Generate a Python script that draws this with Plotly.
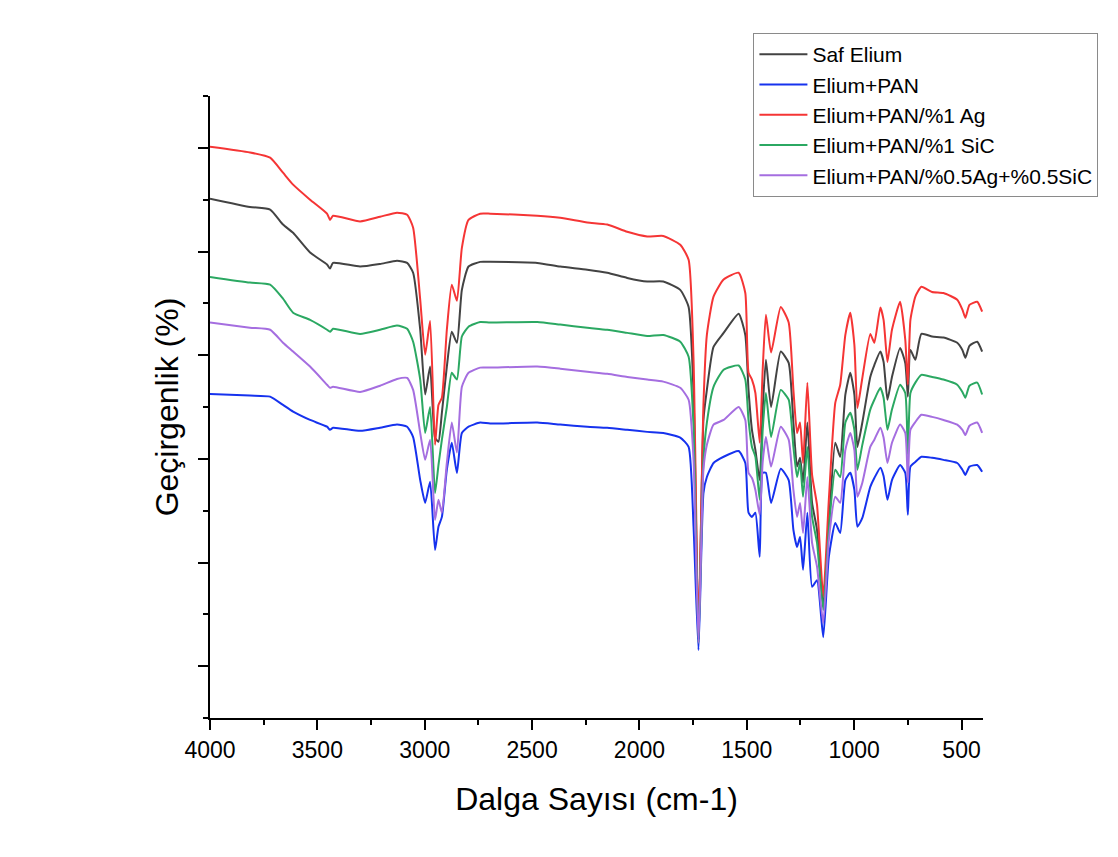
import plotly.graph_objects as go

# Wavenumber grid (cm-1)
wavenumber = [
    4000, 3814, 3720, 3660, 3613, 3534, 3455, 3441, 3427, 3301, 3208, 3129, 3082, 3054,
    3021, 2998, 2975, 2952, 2936, 2920, 2897, 2874, 2850, 2827, 2796, 2742,
    2695, 2476, 2369, 2243, 2150, 2057, 1964, 1889, 1810, 1771,
    1748, 1725, 1702, 1686, 1655, 1608, 1538, 1507, 1492, 1476, 1460, 1440, 1426, 1411, 1387, 1342,
    1305, 1283, 1266, 1252, 1238, 1218, 1196, 1173, 1144, 1118, 1088, 1065, 1041, 1018, 999, 985, 962, 925, 906, 878,
    863, 845, 824, 786, 762, 750, 738, 715, 687, 637, 584, 520, 496, 482, 463, 427, 404,
]

saf_elium = [
    100.2, 98.6, 98.1, 95.2, 93.6, 89.8, 87.5, 86.7, 87.8, 87.1, 87.6, 88.2, 87.8, 85.9,
    74.9, 62.4, 67.8, 54.1, 53.3, 58.9, 67.8, 74.5, 72.4, 82.6, 87.1, 88.0,
    88.0, 87.8, 87.1, 86.5, 85.9, 84.9, 84.2, 84.2, 82.6, 79.3,
    62.7, 15.1, 57.5, 63.3, 71.6, 74.3, 78.0, 73.9, 63.3, 55.6, 51.7, 45.9, 59.5, 69.1, 60.0, 70.7,
    68.5, 57.0, 48.5, 50.2, 45.4, 57.0, 41.5, 36.3, 21.4, 37.3, 53.1, 50.4, 62.4, 66.6, 62.4, 52.3, 57.0, 65.8, 68.1, 70.7,
    68.7, 61.4, 65.8, 71.4, 68.5, 62.0, 71.0, 69.1, 74.1, 73.6, 73.4, 72.4, 71.0, 69.5, 71.8, 72.6, 70.7,
]

elium_pan = [
    62.5, 62.2, 62.0, 60.4, 59.1, 57.5, 56.2, 55.6, 56.0, 55.4, 56.0, 56.6, 56.2, 54.2,
    45.9, 41.5, 45.6, 32.4, 36.9, 38.8, 47.9, 53.1, 47.3, 55.0, 56.2, 57.0,
    56.8, 57.0, 56.6, 56.2, 56.0, 55.6, 55.2, 55.0, 54.1, 52.3,
    36.9, 13.1, 43.4, 46.5, 49.2, 50.4, 51.5, 49.2, 39.6, 38.8, 39.6, 31.1, 47.3, 47.3, 41.5, 48.1,
    45.9, 36.3, 33.0, 34.9, 28.6, 39.6, 25.3, 26.6, 15.6, 31.1, 37.6, 35.7, 45.9, 47.3, 44.0, 36.9, 38.6, 44.6, 46.3, 48.3,
    46.7, 42.1, 45.9, 48.8, 47.3, 39.2, 48.5, 49.4, 50.4, 50.2, 49.8, 49.2, 47.9, 46.9, 48.5, 48.8, 47.5,
]

pan_ag = [
    110.2, 109.1, 108.1, 105.2, 102.9, 100.0, 97.3, 96.1, 96.9, 95.8, 96.7, 97.5, 97.1, 94.6,
    80.7, 70.1, 76.6, 52.7, 60.4, 61.8, 74.9, 83.6, 80.5, 90.7, 96.1, 97.3,
    97.3, 96.9, 96.5, 95.6, 95.2, 93.8, 92.9, 93.0, 91.3, 88.4,
    69.1, 16.4, 60.4, 73.9, 81.3, 84.6, 85.9, 82.0, 66.6, 65.3, 62.7, 53.1, 67.2, 77.8, 70.5, 79.3,
    76.3, 63.3, 55.0, 57.0, 49.2, 64.7, 46.9, 41.1, 23.4, 42.1, 60.8, 64.3, 73.9, 78.2, 72.0, 59.8, 65.6, 74.1, 72.4, 79.2,
    76.8, 68.7, 74.9, 80.3, 73.0, 64.3, 76.8, 81.3, 83.2, 82.2, 82.0, 80.7, 78.8, 77.2, 79.7, 80.3, 78.4,
]

pan_sic = [
    85.1, 84.0, 83.6, 80.9, 78.2, 76.8, 74.9, 74.5, 75.1, 74.1, 74.9, 75.7, 75.1, 72.6,
    65.3, 55.0, 60.0, 43.4, 48.8, 53.7, 60.0, 66.6, 65.3, 73.6, 75.5, 76.4,
    76.3, 76.4, 75.9, 75.3, 74.9, 74.3, 73.7, 73.9, 72.6, 69.7,
    56.2, 14.5, 49.8, 57.0, 63.9, 67.2, 68.0, 65.3, 57.5, 52.3, 50.4, 42.1, 55.6, 62.7, 54.2, 63.3,
    61.4, 52.3, 46.5, 49.2, 42.7, 52.3, 38.8, 33.8, 20.8, 36.3, 47.9, 46.5, 57.0, 58.9, 55.6, 47.9, 52.7, 59.5, 61.4, 63.7,
    61.8, 55.6, 59.5, 64.3, 62.7, 50.8, 62.7, 64.7, 66.2, 65.8, 65.3, 64.3, 62.9, 61.8, 64.1, 64.7, 62.4,
]

pan_ag_sic = [
    76.3, 75.3, 74.9, 72.4, 70.7, 67.8, 64.3, 63.7, 63.9, 62.9, 64.1, 65.4, 65.6, 63.3,
    55.0, 49.8, 53.7, 38.2, 42.1, 39.6, 49.2, 57.0, 51.2, 63.9, 66.6, 67.6,
    67.6, 67.8, 67.4, 66.8, 66.4, 65.8, 65.3, 64.9, 63.7, 61.4,
    49.8, 14.5, 47.9, 52.7, 56.6, 57.5, 60.0, 57.5, 47.3, 46.3, 44.0, 39.2, 49.4, 54.2, 48.5, 56.2,
    53.7, 44.0, 38.8, 41.5, 35.7, 46.5, 33.8, 29.2, 18.3, 34.4, 42.7, 41.5, 51.7, 55.0, 51.7, 42.7, 45.4, 52.3, 53.7, 56.0,
    54.1, 49.2, 53.1, 56.6, 55.0, 45.4, 55.6, 57.1, 58.5, 58.1, 57.5, 56.6, 55.6, 54.6, 56.4, 57.0, 55.0,
]

series_names = ["Saf Elium", "Elium+PAN", "Elium+PAN/%1 Ag", "Elium+PAN/%1 SiC", "Elium+PAN/%0.5Ag+%0.5SiC"]
series_values = [saf_elium, elium_pan, pan_ag, pan_sic, pan_ag_sic]
series_colors = ["#434343", "#1632ee", "#f53535", "#2ba862", "#a56ee0"]

x_major_ticks = [4000, 3500, 3000, 2500, 2000, 1500, 1000, 500]
x_minor_ticks = [3750, 3250, 2750, 2250, 1750, 1250, 750]
y_major_ticks = [10, 30, 50, 70, 90, 110]
y_minor_ticks = [0, 20, 40, 60, 80, 100, 120]

fig = go.Figure()
for name, vals, col in zip(series_names, series_values, series_colors):
    fig.add_trace(go.Scatter(x=wavenumber, y=vals, mode="lines", name=name,
                             line=dict(color=col, width=2, shape="spline", smoothing=0.5)))

font_family = "Liberation Sans, Arial, sans-serif"

fig.update_layout(
    width=1118, height=857,
    margin=dict(l=202, r=143, t=88, b=147),
    paper_bgcolor="white", plot_bgcolor="white",
    font=dict(family=font_family, color="black"),
    showlegend=True,
    legend=dict(
        x=0.703, y=1.1013, xanchor="left", yanchor="top",
        bordercolor="#8a8a8a", borderwidth=1, bgcolor="white",
        font=dict(size=21, family=font_family),
        itemwidth=48, tracegroupgap=0,
    ),
)

fig.update_xaxes(
    range=[4000, 400], showgrid=False, zeroline=False,
    showline=True, linecolor="black", linewidth=2,
    ticks="outside", ticklen=10, tickwidth=2, tickcolor="black",
    tickmode="array", tickvals=x_major_ticks,
    ticktext=[str(t) for t in x_major_ticks],
    tickfont=dict(size=23, family=font_family),
    minor=dict(tickmode="array", tickvals=x_minor_ticks, ticks="outside",
               ticklen=5, tickwidth=2, tickcolor="black"),
    title=dict(text="Dalga Sayısı (cm-1)", font=dict(size=32, family=font_family), standoff=26),
)

fig.update_yaxes(
    range=[0, 120], showgrid=False, zeroline=False,
    showline=True, linecolor="black", linewidth=2,
    ticks="outside", ticklen=10, tickwidth=2, tickcolor="black",
    tickmode="array", tickvals=y_major_ticks, showticklabels=False,
    minor=dict(tickmode="array", tickvals=y_minor_ticks, ticks="outside",
               ticklen=5, tickwidth=2, tickcolor="black"),
    title=dict(text="Geçirgenlik (%)", font=dict(size=32, family=font_family), standoff=10),
)

fig.write_html("out.html")
